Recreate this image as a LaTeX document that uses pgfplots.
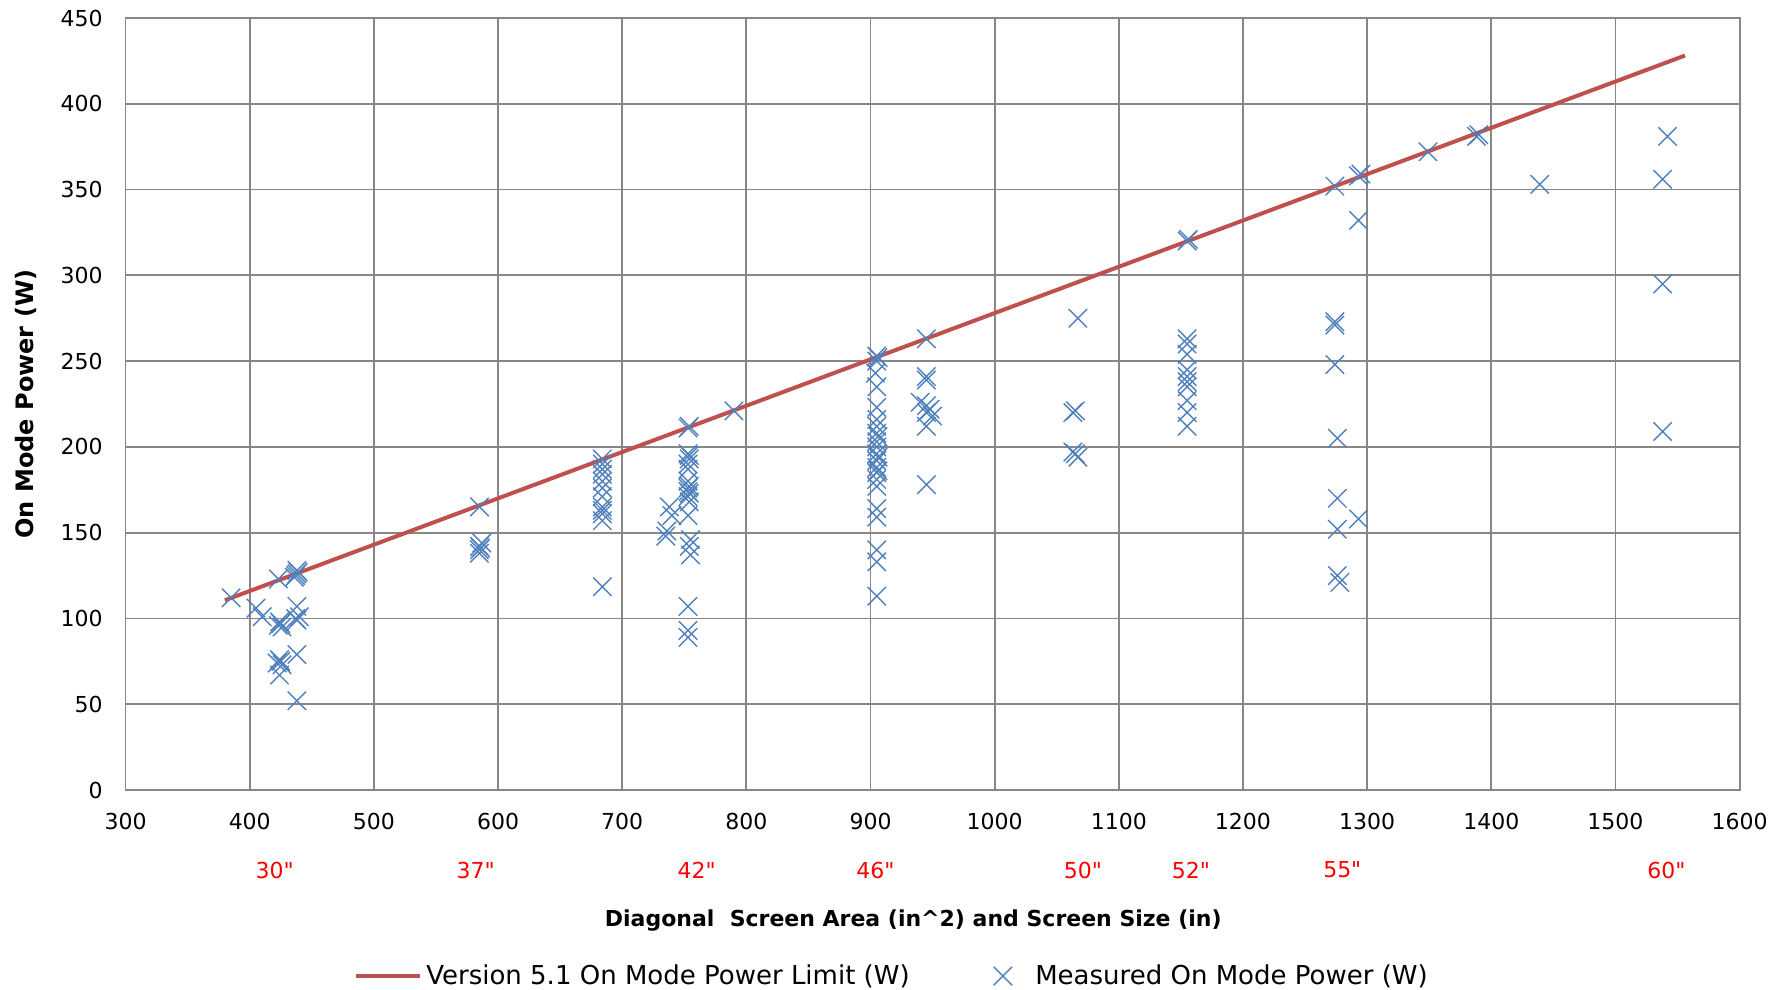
\documentclass[border=0pt]{standalone}
\usepackage{fontspec}
\setmainfont{DejaVu Sans}[Ligatures=TeXOff]
\usepackage{pgfplots}
\pgfplotsset{compat=1.18}
\definecolor{limitRed}{HTML}{C0504D}
\definecolor{measBlue}{HTML}{4F81BD}
\definecolor{gridGray}{HTML}{878787}

\begin{document}
\begin{tikzpicture}
\begin{axis}[
  at={(0,0)}, anchor=south west,
  width=807pt, height=386pt, scale only axis,
  xmin=300, xmax=1600, ymin=0, ymax=450,
  xtick={300,400,...,1600}, ytick={0,50,...,450},
  grid=major, grid style={gridGray, line width=0.9pt},
  axis line style={gridGray, line width=0.9pt},
  tick style={draw=none},
  /pgf/number format/assume math mode=true,
  /pgf/number format/1000 sep={},
  ticklabel style={font=\fontsize{11}{13}\selectfont},
  yticklabel style={xshift=-8pt},
  xticklabel style={yshift=-8pt},
  xlabel={Diagonal\ \ Screen Area (in\textasciicircum 2) and Screen Size (in)},
  xlabel style={at={(axis description cs:0.488,0)}, anchor=center, yshift=-65.5pt,
    font=\bfseries\fontsize{11}{13}\selectfont},
  ylabel={On Mode Power (W)},
  ylabel style={at={(axis description cs:-0.062,0.5)}, anchor=center,
    font=\bfseries\fontsize{12}{14}\selectfont},
  clip=false,
  legend columns=2,
  legend cell align=left,
  legend style={at={(axis description cs:0.4755,-0.241)}, anchor=center, draw=none,
    font=\fontsize{13}{15}\selectfont,
    /tikz/every even column/.append style={column sep=40pt}},
]
\addplot[limitRed, line width=2pt,
  legend image code/.code={\draw[limitRed, line width=2pt] (-6pt,0pt) -- (26pt,0pt);}]
  coordinates {(380,110.6) (1556,428.1)};
\addlegendentry{Version 5.1 On Mode Power Limit (W)}

\addplot[only marks, mark=x, mark size=6.5pt, measBlue, mark options={line width=0.7pt},
  legend image code/.code={\path[draw=measBlue, line width=0.7pt] plot[mark=x, mark size=6.5pt] coordinates {(0pt,0pt)}; \path (14pt,0pt);}]
  table[row sep=\\] {
  x y \\
  385 112 \\ 405 106 \\ 410 101 \\ 423 123 \\ 436 124 \\ 438 126 \\ 438 128 \\
  437 125 \\ 439 127 \\
  424 98 \\ 426 95 \\ 423 96 \\ 425 97 \\ 438 99 \\ 440 101 \\ 437 100 \\ 438 107 \\
  424 76 \\ 426 73 \\ 422 74 \\ 425 75 \\ 438 79 \\ 424 67 \\ 438 52 \\
  585 165 \\ 585 138 \\ 585 140 \\ 585 142 \\ 587 144 \\ 586 141 \\
  684 193 \\ 684 187 \\ 684 184 \\ 684 180 \\ 684 176 \\ 684 171 \\ 684 165 \\
  684 161 \\ 684 157 \\ 684 163 \\ 684 190 \\ 684 118.5 \\
  738 165 \\ 740 160 \\ 736 151 \\ 735 148 \\
  753 211 \\ 754 212 \\ 753 196 \\ 754 193 \\ 753 190 \\ 753 187 \\ 754 195 \\
  753 180 \\ 754 177 \\ 753 174 \\ 753 171 \\ 754 168 \\ 754 173 \\ 753 176 \\
  753 160 \\ 755 146 \\ 754 142 \\ 755 137 \\ 753 107 \\ 753 93 \\ 753 89 \\
  790 221 \\
  905 253 \\ 905 250 \\ 906 252 \\ 904 243 \\ 905 235 \\ 905 223 \\ 905 216 \\
  905 212 \\ 905 208 \\ 905 203 \\ 905 200 \\ 905 196 \\ 905 192 \\ 905 188 \\
  905 185 \\ 905 181 \\ 905 177 \\ 906 206 \\ 906 194 \\ 906 186 \\
  905 164 \\ 905 159 \\ 905 140 \\ 905 133 \\ 905 113 \\
  945 263 \\ 945 241 \\ 945 239 \\ 940 226 \\ 945 224 \\ 948 222 \\ 945 220 \\
  950 218 \\ 945 212 \\ 945 178 \\
  1067 275 \\ 1065 221 \\ 1063 220 \\ 1063 197 \\ 1067 194 \\ 1065 196 \\
  1155 320 \\ 1156 321 \\ 1155 263 \\ 1155 260 \\ 1155 254 \\ 1155 245 \\
  1155 241 \\ 1155 238 \\ 1155 235 \\ 1155 227 \\ 1155 220 \\ 1155 212 \\
  1274 352 \\ 1274 273 \\ 1274 271 \\ 1274 248 \\ 1276 205 \\ 1276 170 \\
  1276 152 \\ 1276 125 \\ 1278 121 \\
  1293 358 \\ 1295 359 \\ 1293 332 \\ 1293 158 \\
  1349 372 \\ 1390 382 \\ 1388 381 \\ 1439 353 \\
  1542 381 \\ 1538 356 \\ 1538 295 \\ 1538 209 \\
  };
\addlegendentry{Measured On Mode Power (W)}

\begin{scope}[every node/.style={text=red, font=\fontsize{11}{13}\selectfont, anchor=center, yshift=-40pt}]
  \node at (axis cs:420,0) {30"};
  \node at (axis cs:582,0) {37"};
  \node at (axis cs:760,0) {42"};
  \node at (axis cs:904,0) {46"};
  \node at (axis cs:1071,0) {50"};
  \node at (axis cs:1158,0) {52"};
  \node at (axis cs:1280,0) {55"};
  \node at (axis cs:1541,0) {60"};
\end{scope}
\end{axis}
\pgfresetboundingbox
\path (-62.8pt,-100pt) rectangle (832.2pt,395pt);
\end{tikzpicture}
\end{document}
